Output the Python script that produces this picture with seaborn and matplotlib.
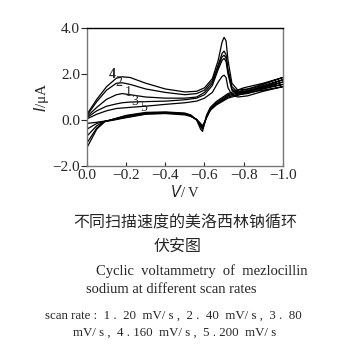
import matplotlib
matplotlib.use("Agg")
import matplotlib.pyplot as plt
import pandas as pd
import seaborn as sns

# potentials (V), forward scan 0 -> -1.0 then reverse scan -1.0 -> 0
e_fwd = [0, -0.05, -0.10, -0.15, -0.18, -0.22, -0.30, -0.40, -0.50, -0.56, -0.60,
         -0.64, -0.67, -0.69, -0.70, -0.71, -0.72, -0.74, -0.77, -0.82, -0.90, -1.0]
e_rev = [-1.0, -0.90, -0.80, -0.72, -0.66, -0.63, -0.61, -0.60, -0.59, -0.58,
         -0.56, -0.53, -0.50, -0.40, -0.30, -0.20, -0.12, -0.09, -0.05, 0]

# currents (uA), one list per curve
i_fwd_4 = [0.25, 0.9, 1.45, 1.82, 1.88, 1.85, 1.6, 1.35, 1.22, 1.25, 1.4, 1.8, 2.6, 3.4, 3.6, 3.45, 2.6, 1.6, 1.3, 1.35, 1.55, 1.85]
i_rev_4 = [1.85, 1.6, 1.4, 1.15, 0.8, 0.55, 0.2, -0.15, -0.5, -0.4, 0.0, 0.22, 0.3, 0.35, 0.33, 0.2, 0.0, -0.08, -0.4, -1.2]
i_fwd_2 = [0.2, 0.8, 1.3, 1.6, 1.62, 1.55, 1.35, 1.2, 1.1, 1.15, 1.3, 1.7, 2.4, 2.9, 3.0, 2.85, 2.2, 1.45, 1.2, 1.25, 1.45, 1.75]
i_rev_2 = [1.75, 1.5, 1.3, 1.1, 0.75, 0.5, 0.15, -0.15, -0.4, -0.3, 0.0, 0.2, 0.28, 0.33, 0.3, 0.18, 0.0, -0.07, -0.35, -1.0]
i_fwd_1 = [0.15, 0.55, 0.9, 1.1, 1.15, 1.1, 1.0, 0.95, 0.95, 1.0, 1.2, 1.6, 2.3, 2.75, 2.82, 2.7, 2.1, 1.35, 1.15, 1.2, 1.4, 1.65]
i_rev_1 = [1.65, 1.45, 1.25, 1.05, 0.7, 0.45, 0.1, -0.15, -0.35, -0.25, 0.0, 0.18, 0.27, 0.32, 0.28, 0.15, 0.0, -0.06, -0.25, -0.7]
i_fwd_3 = [0.1, 0.4, 0.6, 0.7, 0.75, 0.78, 0.8, 0.82, 0.88, 0.95, 1.1, 1.5, 2.2, 2.6, 2.68, 2.55, 2.0, 1.3, 1.1, 1.15, 1.35, 1.55]
i_rev_3 = [1.55, 1.4, 1.2, 1.0, 0.68, 0.45, 0.1, -0.1, -0.3, -0.2, 0.02, 0.17, 0.25, 0.3, 0.27, 0.12, -0.02, -0.06, -0.15, -0.4]
i_fwd_5 = [0.05, 0.25, 0.4, 0.5, 0.52, 0.55, 0.6, 0.68, 0.75, 0.82, 0.95, 1.2, 1.65, 1.9, 1.95, 1.85, 1.4, 1.1, 1.0, 1.05, 1.25, 1.45]
i_rev_5 = [1.45, 1.3, 1.15, 0.95, 0.65, 0.42, 0.1, -0.1, -0.25, -0.15, 0.03, 0.15, 0.22, 0.28, 0.25, 0.1, -0.03, -0.05, -0.1, -0.15]

curves = {"4": (i_fwd_4, i_rev_4), "2": (i_fwd_2, i_rev_2), "1": (i_fwd_1, i_rev_1),
          "3": (i_fwd_3, i_rev_3), "5": (i_fwd_5, i_rev_5)}

# curve labels and where they sit
label_names = ["4", "2", "1", "3", "5"]
label_e = [-0.13, -0.165, -0.21, -0.245, -0.29]
label_i = [1.97, 1.62, 1.2, 0.8, 0.55]

rows = []
for name, (f, r) in curves.items():
    for k, (e, i) in enumerate(zip(e_fwd + e_rev, f + r)):
        rows.append({"curve": name, "k": k, "E": e, "I": i})
df = pd.DataFrame(rows)

sns.set_style("ticks")
plt.rcParams["font.family"] = ["Liberation Serif", "Noto Sans CJK SC", "DejaVu Sans"]

fig = plt.figure(figsize=(3.64, 3.56), dpi=100)
ax = fig.add_axes([0.239, 0.534, 0.538, 0.387])
sns.lineplot(data=df, x="E", y="I", units="curve", estimator=None, sort=False,
             color="black", lw=0.9, ax=ax)

for n, e, i in zip(label_names, label_e, label_i):
    ax.text(e, i, n, fontsize=10, ha="center", va="center",
            fontweight="bold" if n == "4" else "normal")

ax.set_xlim(0, -1.0)
ax.set_ylim(-2.0, 4.0)
ax.set_xticks([0, -0.2, -0.4, -0.6, -0.8, -1.0])
ax.set_xticklabels(["0.0", "\u22120.2", "\u22120.4", "\u22120.6", "\u22120.8", "\u22121.0"])
ax.set_yticks([-2, 0, 2, 4])
ax.set_yticklabels(["\u22122.0", "0.0", "2.0", "4.0"])
ax.tick_params(axis="x", direction="in", length=3, labelsize=11, pad=2)
ax.tick_params(axis="y", direction="out", length=4, labelsize=11, pad=1)
ax.set_xlabel("$V$/ V", fontsize=10.5, labelpad=2)
ax.set_ylabel("$I$/\u03bcA", fontsize=11, labelpad=1)
ax.spines["top"].set_color("black")
for s in ["left", "right", "bottom"]:
    ax.spines[s].set_color("#777777")
for s in ax.spines.values():
    s.set_linewidth(1.0)

fig.text(0.51, 0.36, "不同扫描速度的美洛西林钠循环", ha="center", fontsize=11.5,
         family=["Noto Sans CJK SC"])
fig.text(0.487, 0.293, "伏安图", ha="center", fontsize=11.5, family=["Noto Sans CJK SC"])
fig.text(0.555, 0.228, "Cyclic  voltammetry  of  mezlocillin", ha="center", fontsize=10.5)
fig.text(0.47, 0.178, "sodium at different scan rates", ha="center", fontsize=10.5)
fig.text(0.475, 0.106, "scan rate :  1 .  20  mV/ s ,  2 .  40  mV/ s ,  3 .  80",
         ha="center", fontsize=9.3)
fig.text(0.481, 0.058, "mV/ s ,  4 . 160  mV/ s ,  5 . 200  mV/ s", ha="center", fontsize=9.3)

fig.savefig("out.png", dpi=100)
